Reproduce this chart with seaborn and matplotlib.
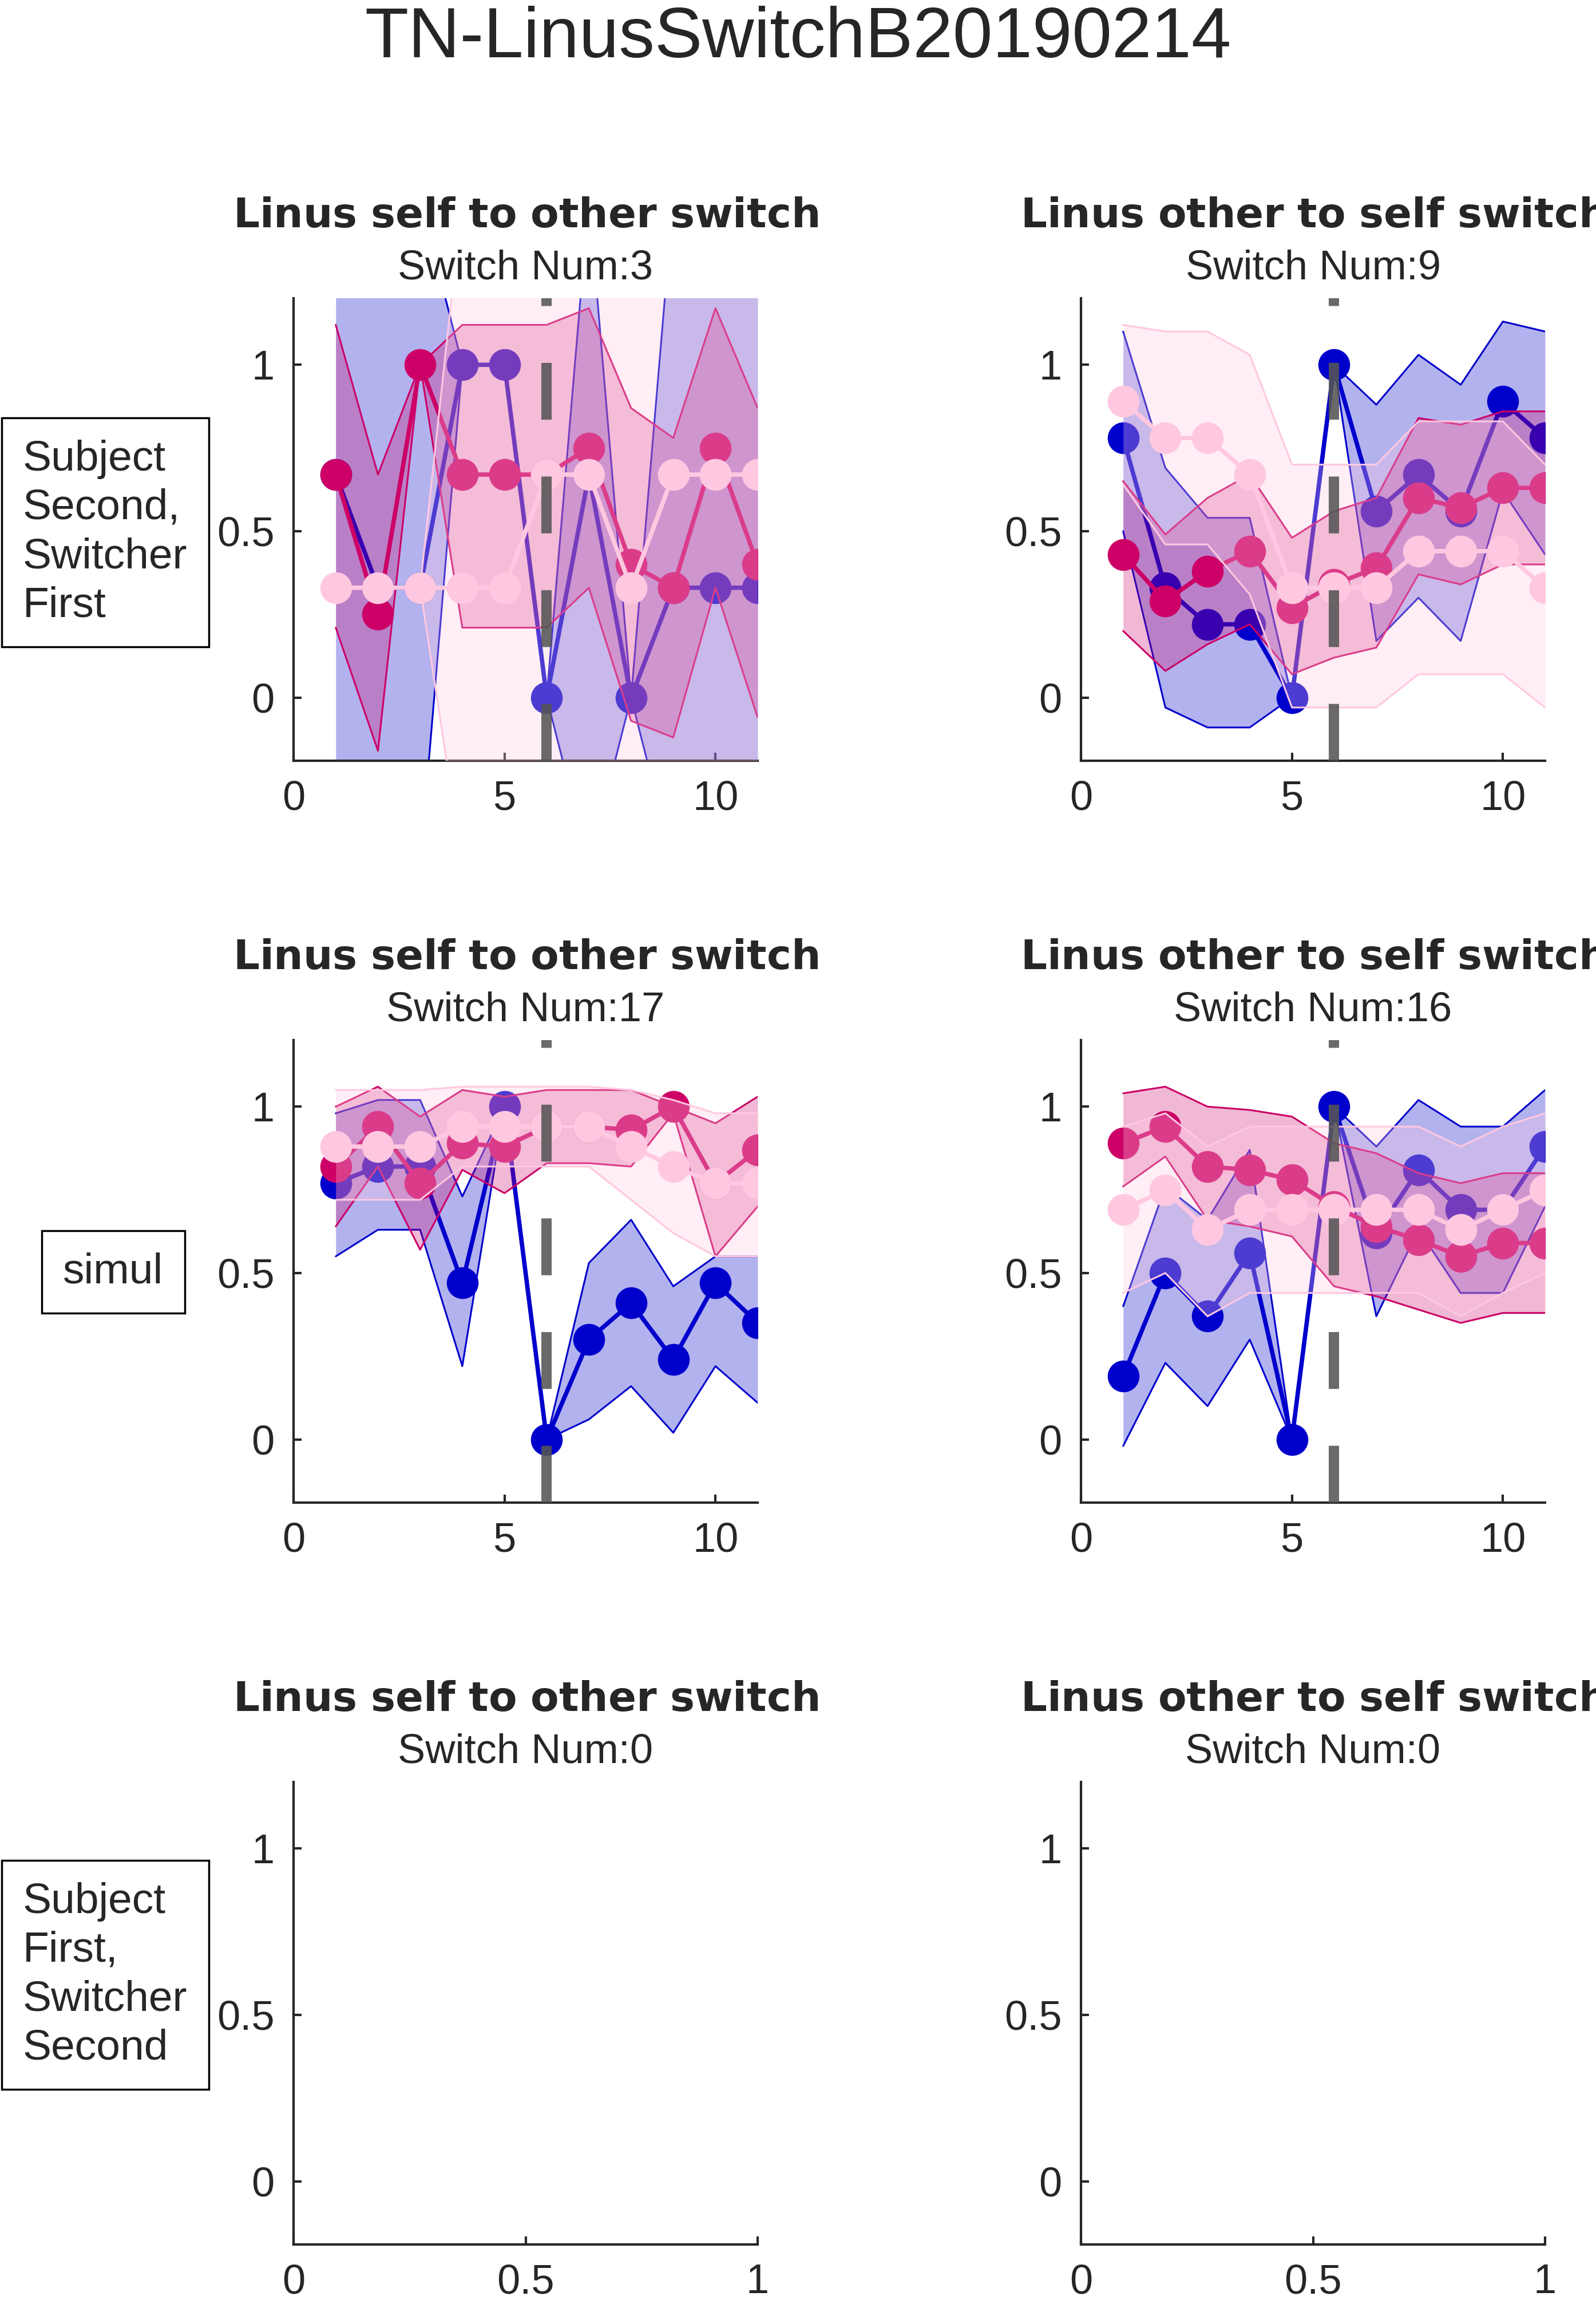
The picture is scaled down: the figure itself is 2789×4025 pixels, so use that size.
import matplotlib
matplotlib.use("Agg")
import matplotlib.pyplot as plt
import seaborn as sns

# trial index 1..11 around the switch (switch at 6)
trials = list(range(1, 12))
switch_trial = 6

# panel 1: self to other, subject second
p1_blue = [0.67, 0.33, 0.33, 1, 1, 0, 0.67, 0, 0.33, 0.33, 0.33]
p1_blue_hi = [1.5, 1.5, 1.5, 1, 1, 0, 1.5, 0, 1.5, 1.5, 1.5]
p1_blue_lo = [-0.5, -0.5, -0.5, 1, 1, 0, -0.5, 0, -0.5, -0.5, -0.5]
p1_mag = [0.67, 0.25, 1, 0.67, 0.67, 0.67, 0.75, 0.4, 0.33, 0.75, 0.4]
p1_mag_hi = [1.12, 0.67, 1.0, 1.12, 1.12, 1.12, 1.17, 0.87, 0.78, 1.17, 0.87]
p1_mag_lo = [0.21, -0.16, 1.0, 0.21, 0.21, 0.21, 0.33, -0.07, -0.12, 0.33, -0.06]
p1_pink = [0.33, 0.33, 0.33, 0.33, 0.33, 0.67, 0.67, 0.33, 0.67, 0.67, 0.67]
p1_pink_hi = [0.33, 0.33, 0.33, 1.5, 1.5, 1.5, 1.5, 1.5, 1.5, 1.5, 1.5]
p1_pink_lo = [0.33, 0.33, 0.33, -0.5, -0.5, -0.5, -0.5, -0.5, -0.5, -0.5, -0.5]

# panel 2: other to self, subject second
p2_blue = [0.78, 0.33, 0.22, 0.22, 0, 1, 0.56, 0.67, 0.56, 0.89, 0.78]
p2_blue_hi = [1.1, 0.69, 0.54, 0.54, 0, 1, 0.88, 1.03, 0.94, 1.13, 1.1]
p2_blue_lo = [0.5, -0.03, -0.09, -0.09, 0, 1, 0.17, 0.3, 0.17, 0.62, 0.43]
p2_mag = [0.43, 0.29, 0.38, 0.44, 0.27, 0.34, 0.39, 0.6, 0.57, 0.63, 0.63]
p2_mag_hi = [0.65, 0.49, 0.6, 0.67, 0.48, 0.56, 0.6, 0.84, 0.82, 0.86, 0.86]
p2_mag_lo = [0.2, 0.08, 0.16, 0.22, 0.07, 0.12, 0.15, 0.37, 0.34, 0.4, 0.4]
p2_pink = [0.89, 0.78, 0.78, 0.67, 0.33, 0.33, 0.33, 0.44, 0.44, 0.44, 0.33]
p2_pink_hi = [1.12, 1.1, 1.1, 1.03, 0.7, 0.7, 0.7, 0.83, 0.83, 0.83, 0.7]
p2_pink_lo = [0.64, 0.46, 0.46, 0.31, -0.03, -0.03, -0.03, 0.07, 0.07, 0.07, -0.03]

# panel 3: self to other, simul
p3_blue = [0.77, 0.82, 0.82, 0.47, 1.0, 0, 0.3, 0.41, 0.24, 0.47, 0.35]
p3_blue_hi = [0.98, 1.02, 1.02, 0.73, 1.0, 0, 0.53, 0.66, 0.46, 0.55, 0.55]
p3_blue_lo = [0.55, 0.63, 0.63, 0.22, 1.0, 0, 0.06, 0.16, 0.02, 0.22, 0.11]
p3_mag = [0.82, 0.94, 0.77, 0.89, 0.88, 0.94, 0.94, 0.93, 1.0, 0.77, 0.87]
p3_mag_hi = [1.0, 1.06, 0.97, 1.05, 1.03, 1.05, 1.05, 1.05, 1.0, 0.95, 1.03]
p3_mag_lo = [0.64, 0.82, 0.57, 0.81, 0.74, 0.83, 0.83, 0.82, 0.98, 0.55, 0.7]
p3_pink = [0.88, 0.88, 0.88, 0.94, 0.94, 0.94, 0.94, 0.88, 0.82, 0.77, 0.77]
p3_pink_hi = [1.05, 1.05, 1.05, 1.06, 1.06, 1.06, 1.06, 1.05, 1.02, 0.98, 0.98]
p3_pink_lo = [0.72, 0.72, 0.72, 0.82, 0.82, 0.82, 0.82, 0.72, 0.62, 0.55, 0.55]

# panel 4: other to self, simul
p4_blue = [0.19, 0.5, 0.37, 0.56, 0, 1, 0.62, 0.81, 0.69, 0.69, 0.88]
p4_blue_hi = [0.4, 0.76, 0.66, 0.87, 0, 1, 0.88, 1.02, 0.94, 0.94, 1.05]
p4_blue_lo = [-0.02, 0.23, 0.1, 0.3, 0, 1, 0.37, 0.63, 0.44, 0.44, 0.7]
p4_mag = [0.89, 0.94, 0.82, 0.81, 0.78, 0.7, 0.64, 0.6, 0.55, 0.59, 0.59]
p4_mag_hi = [1.04, 1.06, 1.0, 0.99, 0.97, 0.89, 0.86, 0.8, 0.77, 0.8, 0.8]
p4_mag_lo = [0.76, 0.85, 0.66, 0.64, 0.61, 0.46, 0.43, 0.39, 0.35, 0.38, 0.38]
p4_pink = [0.69, 0.75, 0.63, 0.69, 0.69, 0.69, 0.69, 0.69, 0.63, 0.69, 0.75]
p4_pink_hi = [0.94, 0.98, 0.88, 0.94, 0.94, 0.94, 0.94, 0.94, 0.88, 0.94, 0.98]
p4_pink_lo = [0.44, 0.5, 0.37, 0.44, 0.44, 0.44, 0.44, 0.44, 0.37, 0.44, 0.5]

titles = ["Linus self to other switch", "Linus other to self switch"]
switch_nums = [[3, 9], [17, 16], [0, 0]]
row_labels = ["Subject\nSecond,\nSwitcher\nFirst", "simul", "Subject\nFirst,\nSwitcher\nSecond"]

BLUE = "#0000CC"
MAGENTA = "#CC0066"
PINK = "#FFC8E0"

sns.set_style("ticks")
plt.rcParams["font.family"] = ["Liberation Sans", "DejaVu Sans"]

fig = plt.figure(figsize=(27.89, 40.25), dpi=100)
W, H = 2789, 4025
col_x = [513, 1889]
ax_w = 811
row_top = [521, 1817, 3113]
ax_h = 808


def plot_series(ax, vals, lo, hi, color, band_alpha, z):
    ax.fill_between(trials, lo, hi, color=color, alpha=band_alpha, lw=0, zorder=z)
    ax.plot(trials, lo, color=color, lw=2.2, zorder=z + 0.1)
    ax.plot(trials, hi, color=color, lw=2.2, zorder=z + 0.1)
    sns.lineplot(x=trials, y=vals, ax=ax, color=color, lw=5.5, marker="o",
                 markersize=40, markeredgewidth=0, zorder=z + 0.2)


panels = [
    [(p1_blue, p1_blue_lo, p1_blue_hi), (p1_mag, p1_mag_lo, p1_mag_hi), (p1_pink, p1_pink_lo, p1_pink_hi)],
    [(p2_blue, p2_blue_lo, p2_blue_hi), (p2_mag, p2_mag_lo, p2_mag_hi), (p2_pink, p2_pink_lo, p2_pink_hi)],
    [(p3_blue, p3_blue_lo, p3_blue_hi), (p3_mag, p3_mag_lo, p3_mag_hi), (p3_pink, p3_pink_lo, p3_pink_hi)],
    [(p4_blue, p4_blue_lo, p4_blue_hi), (p4_mag, p4_mag_lo, p4_mag_hi), (p4_pink, p4_pink_lo, p4_pink_hi)],
]

for r in range(3):
    for c in range(2):
        ax = fig.add_axes([col_x[c] / W, 1 - (row_top[r] + ax_h) / H, ax_w / W, ax_h / H])
        if r < 2:
            series = panels[r * 2 + c]
            for i, ((vals, lo, hi), color, a) in enumerate(
                    zip(series, [BLUE, MAGENTA, PINK], [0.3, 0.28, 0.3])):
                plot_series(ax, vals, lo, hi, color, a, 2 + i)
            ax.axvline(switch_trial, color="#555555", lw=13, ls=(0, (5.5, 5.5)), alpha=0.88, zorder=10)
            ax.set_xlim(0, 11)
            ax.set_xticks([0, 5, 10])
        else:
            ax.set_xlim(0, 1)
            ax.set_xticks([0, 0.5, 1])
            ax.set_xticklabels(["0", "0.5", "1"])
        ax.set_ylim(-0.19, 1.2)
        ax.set_yticks([0, 0.5, 1])
        ax.set_yticklabels(["0", "0.5", "1"])
        sns.despine(ax=ax)
        for s in ["left", "bottom"]:
            ax.spines[s].set_linewidth(3)
            ax.spines[s].set_color("#262626")
        ax.tick_params(direction="in", length=10, width=3, labelsize=52, colors="#262626", pad=24)
        ax.set_title(f"$\\bf{{{titles[c].replace(' ', '~')}}}$\nSwitch Num:{switch_nums[r][c]}",
                     fontsize=52, pad=24, linespacing=1.45)
        ax.set_facecolor("white")

# row labels in boxes
label_pos = [(40, 930), (110, 2222), (40, 3450)]
for (lx, ly), txt in zip(label_pos, row_labels):
    fig.text(lx / W, 1 - ly / H, txt, fontsize=54, ha="left", va="center", linespacing=1.3,
             bbox=dict(boxstyle="square,pad=0.5", fc="white", ec="black", lw=2.5))

fig.suptitle("TN-LinusSwitchB20190214", fontsize=90, y=1 - 10 / H, va="top")
fig.savefig("out.png", dpi=100)
